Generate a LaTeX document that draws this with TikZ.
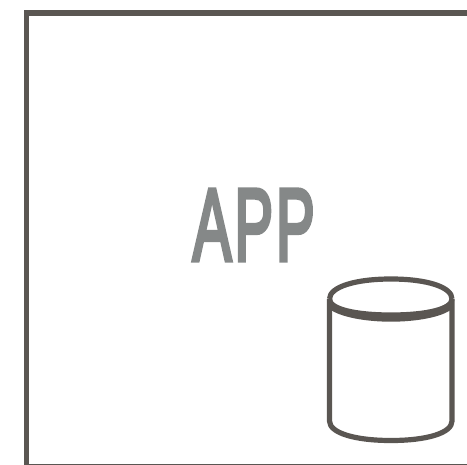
\documentclass[tikz,border=0pt]{standalone}
\usepackage{fontspec}
\usepackage{graphicx}
\setmainfont{Liberation Sans}
\newfontfamily\appfont[FakeBold=4.6,LetterSpace=5]{Liberation Sans}
\definecolor{frame}{HTML}{5A5652}
\definecolor{apptext}{HTML}{858888}
\tikzset{wall/.style={draw=frame,line width=5.6bp,line cap=butt,line join=miter},
 cyl/.style={draw=frame,line width=5.2bp,line join=round},
 lbl/.style={text=apptext,inner sep=0pt,font=\appfont}}
\begin{document}
\begin{tikzpicture}[x=1bp,y=-1bp]
\useasboundingbox (0,0) rectangle (467,465);
\clip (0,0) rectangle (467,465);
\draw[wall] (470,12.8) -- (26.3,12.8) -- (26.3,466.5) -- (470,466.5);
\node[lbl] (app) at (253.7,225) {\resizebox{122bp}{70.5bp}{APP}};
\draw[cyl] (329.5,299) -- (329.5,421) .. controls (329.5,433) and (355,440.5) .. (391,440.5) .. controls (427,440.5) and (452,433) .. (452,421) -- (452,299);
\draw[cyl] (329.5,299) .. controls (329.5,287) and (355,279) .. (391,279) .. controls (427,279) and (452,287) .. (452,299);
\draw[cyl] (329.5,299) .. controls (329.5,309) and (355,315) .. (391,315) .. controls (427,315) and (452,309) .. (452,299);
\fill[frame] (329.5,301) .. controls (340,312) and (365,317) .. (391,317) .. controls (417,317) and (442,312) .. (452,301)
 -- (452,309) .. controls (442,317) and (417,321.7) .. (391,321.7) .. controls (365,321.7) and (340,317) .. (329.5,309) -- cycle;
\end{tikzpicture}
\end{document}
